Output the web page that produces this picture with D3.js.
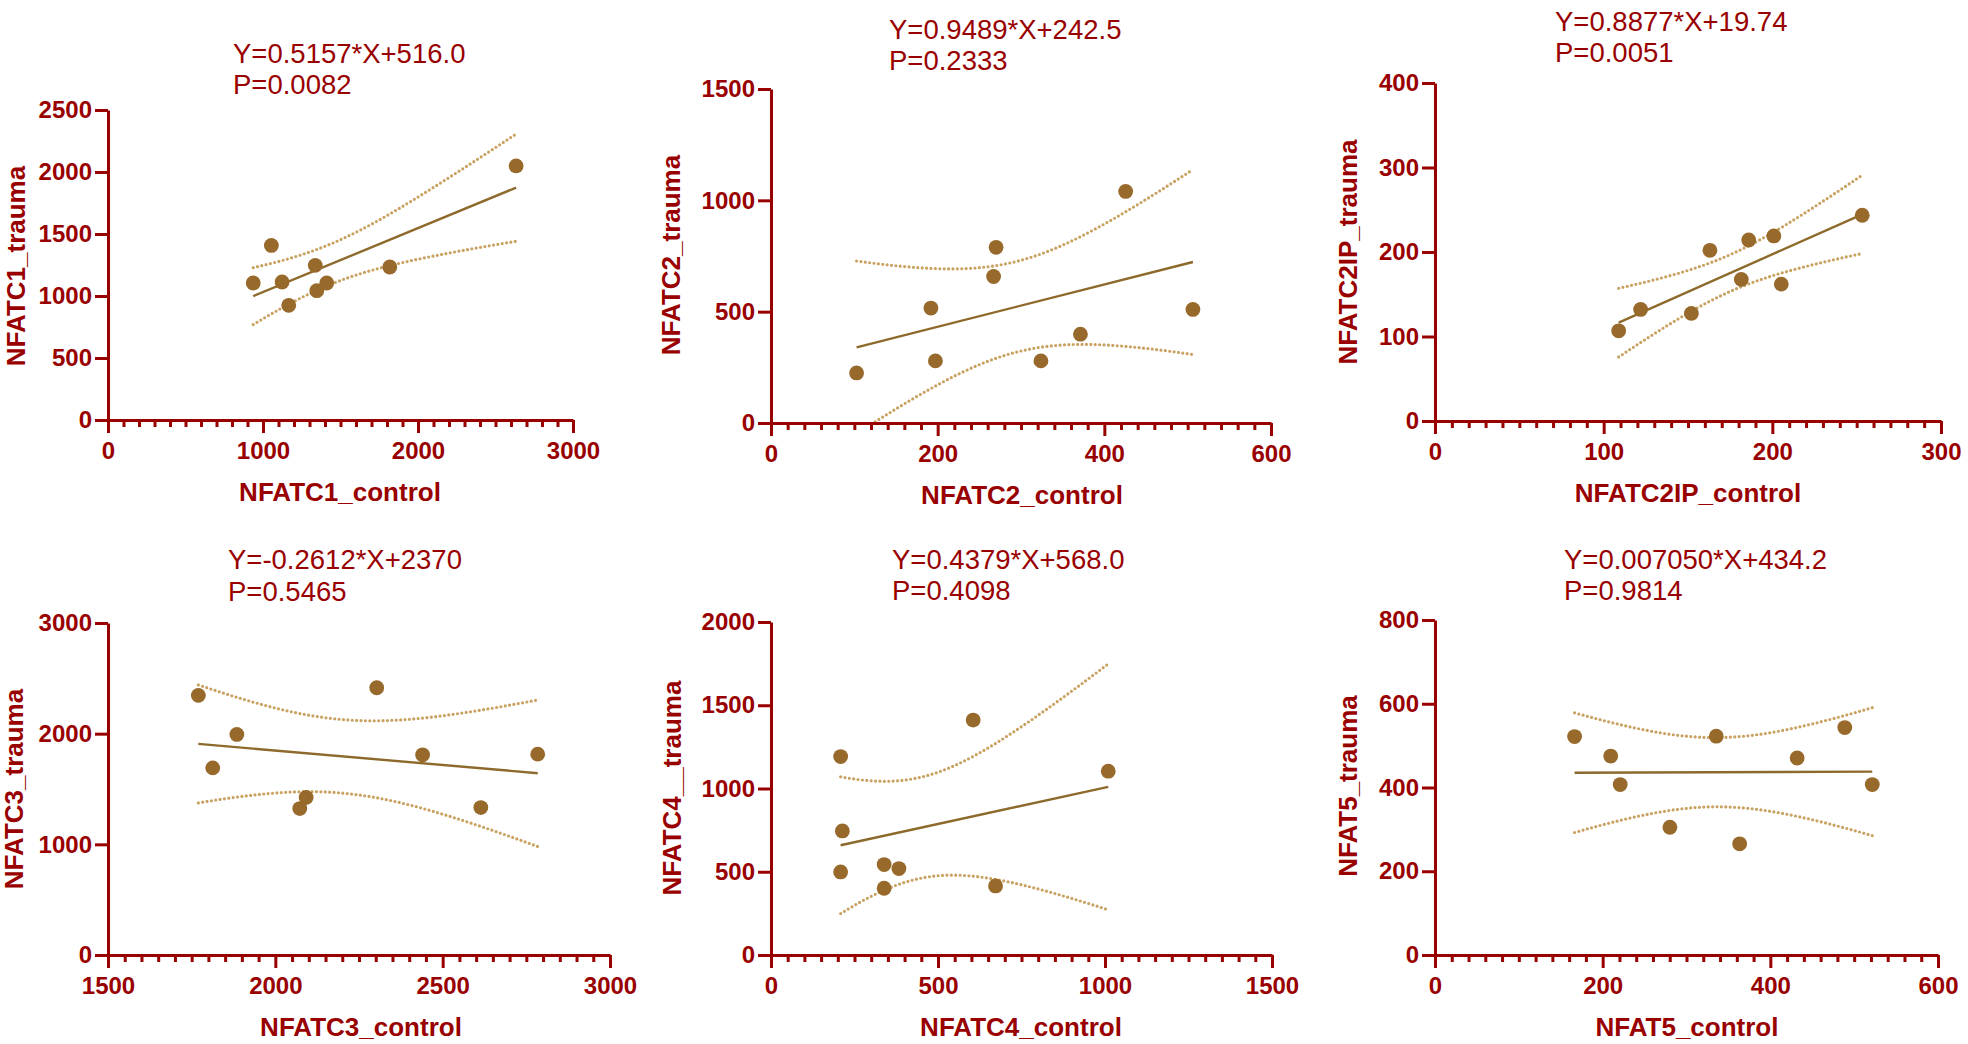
<!DOCTYPE html>
<html>
<head>
<meta charset="utf-8">
<script src="https://cdn.jsdelivr.net/npm/d3@7"></script>
<style>
  html, body { margin: 0; padding: 0; background: #ffffff; }
  svg { display: block; }
</style>
</head>
<body>
<svg id="chart" width="1968" height="1044"></svg>
<script>
// ---------------- DATA ----------------
const genes = ["NFATC1", "NFATC2", "NFATC2IP", "NFATC3", "NFATC4", "NFAT5"];
const xTitles = ["NFATC1_control", "NFATC2_control", "NFATC2IP_control", "NFATC3_control", "NFATC4_control", "NFAT5_control"];
const yTitles = ["NFATC1_trauma", "NFATC2_trauma", "NFATC2IP_trauma", "NFATC3_trauma", "NFATC4__trauma", "NFAT5_trauma"];
const equations = ["Y=0.5157*X+516.0", "Y=0.9489*X+242.5", "Y=0.8877*X+19.74", "Y=-0.2612*X+2370", "Y=0.4379*X+568.0", "Y=0.007050*X+434.2"];
const pTexts = ["P=0.0082", "P=0.2333", "P=0.0051", "P=0.5465", "P=0.4098", "P=0.9814"];
const slopes = [0.5157, 0.9489, 0.8877, -0.2612, 0.4379, 0.007050];
const intercepts = [516.0, 242.5, 19.74, 2370, 568.0, 434.2];

// axis ranges and ticks
const xDomains = [[0, 3000], [0, 600], [0, 300], [1500, 3000], [0, 1500], [0, 600]];
const yDomains = [[0, 2500], [0, 1500], [0, 400], [0, 3000], [0, 2000], [0, 800]];
const xMajorTicks = [[0, 1000, 2000, 3000], [0, 200, 400, 600], [0, 100, 200, 300], [1500, 2000, 2500, 3000], [0, 500, 1000, 1500], [0, 200, 400, 600]];
const xMinorStep = [100, 20, 10, 50, 50, 20];
const yTicks = [[0, 500, 1000, 1500, 2000, 2500], [0, 500, 1000, 1500], [0, 100, 200, 300, 400], [0, 1000, 2000, 3000], [0, 500, 1000, 1500, 2000], [0, 200, 400, 600, 800]];

// points (control, trauma)
const nfatc1X = [937, 1054, 1123, 1166, 1337, 1347, 1411, 1818, 2633];
const nfatc1Y = [1105, 1408, 1113, 925, 1247, 1043, 1105, 1234, 2049];
const nfatc2X = [102.7, 191.9, 197.3, 267.1, 270.1, 323.9, 371.3, 425.6, 506.3];
const nfatc2Y = [225, 516, 279, 658, 789, 279, 399, 1040, 510];
const nfatc2ipX = [108.9, 121.9, 152.0, 163.0, 181.6, 186.0, 200.9, 205.3, 253.3];
const nfatc2ipY = [106.7, 132, 127.3, 202, 167.6, 214.2, 219, 162, 243.5];
const nfatc3X = [1770, 1813, 1885, 2073, 2092, 2303, 2440, 2614, 2784];
const nfatc3Y = [2346, 1691, 1993, 1323, 1423, 2415, 1809, 1332, 1815];
const nfatc4X = [208.5, 213.6, 208.5, 338.7, 338.7, 382.9, 605.3, 672.3, 1009.7];
const nfatc4Y = [1192, 745, 499, 543, 401, 519, 1411, 415, 1104];
const nfat5X = [166.5, 209.6, 220.9, 280.2, 335.5, 363.4, 432.0, 488.8, 521.6];
const nfat5Y = [521.7, 475.1, 407.1, 305.1, 522.5, 265.6, 470.4, 543.1, 407.1];

const seriesX = [nfatc1X, nfatc2X, nfatc2ipX, nfatc3X, nfatc4X, nfat5X];
const seriesY = [nfatc1Y, nfatc2Y, nfatc2ipY, nfatc3Y, nfatc4Y, nfat5Y];

// ---------------- LAYOUT ----------------
const layout = [
  {x0: 108, x1: 573, y0: 110, y1: 420, eqX: 233, eqY: 63, pY: 94, ylX: 16, ylY: 266, xlX: 340},
  {x0: 771, x1: 1271, y0: 89, y1: 423, eqX: 889, eqY: 39, pY: 70, ylX: 671, ylY: 255, xlX: 1022},
  {x0: 1435, x1: 1941, y0: 83, y1: 421, eqX: 1555, eqY: 31, pY: 62, ylX: 1348, ylY: 252, xlX: 1688},
  {x0: 108, x1: 610, y0: 623, y1: 955, eqX: 228, eqY: 569, pY: 601, ylX: 14, ylY: 789, xlX: 361},
  {x0: 771, x1: 1272, y0: 622, y1: 955, eqX: 892, eqY: 569, pY: 600, ylX: 672, ylY: 788, xlX: 1021},
  {x0: 1435, x1: 1938, y0: 620, y1: 955, eqX: 1564, eqY: 569, pY: 600, ylX: 1348, ylY: 786, xlX: 1687}
];

const RED = "#990000";
const DOT = "#97692b";
const LINE = "#8d6a2c";
const BAND = "#c9a262";
const T975_DF7 = 2.3646;

const svg = d3.select("#chart");
const defs = svg.append("defs");

genes.forEach((g, i) => {
  const L = layout[i];
  const xs = seriesX[i], ys = seriesY[i];
  const x = d3.scaleLinear().domain(xDomains[i]).range([L.x0, L.x1]);
  const y = d3.scaleLinear().domain(yDomains[i]).range([L.y1, L.y0]);
  const gp = svg.append("g").attr("class", "panel-" + g);

  defs.append("clipPath").attr("id", "clip" + i)
    .append("rect").attr("x", L.x0).attr("y", L.y0 - 40)
    .attr("width", L.x1 - L.x0 + 20).attr("height", L.y1 - L.y0 + 40);

  // regression and 95% confidence band of the fitted line
  const a = slopes[i], b = intercepts[i];
  const n = xs.length;
  const xbar = d3.mean(xs);
  const sxx = d3.sum(xs, v => (v - xbar) * (v - xbar));
  const sse = d3.sum(xs.map((v, k) => Math.pow(ys[k] - (a * v + b), 2)));
  const s = Math.sqrt(sse / (n - 2));
  const xmin = d3.min(xs), xmax = d3.max(xs);
  const grid = d3.range(0, 121).map(k => xmin + (xmax - xmin) * k / 120);
  const half = v => T975_DF7 * s * Math.sqrt(1 / n + (v - xbar) * (v - xbar) / sxx);
  const upper = grid.map(v => [v, a * v + b + half(v)]);
  const lower = grid.map(v => [v, a * v + b - half(v)]);
  const lineGen = d3.line().x(d => x(d[0])).y(d => y(d[1]));

  const plot = gp.append("g").attr("clip-path", "url(#clip" + i + ")");
  [upper, lower].forEach(band => {
    plot.append("path").datum(band)
      .attr("d", lineGen)
      .attr("fill", "none")
      .attr("stroke", BAND)
      .attr("stroke-width", 3.2)
      .attr("stroke-linecap", "round")
      .attr("stroke-dasharray", "0 4.4");
  });
  plot.append("path").datum([[xmin, a * xmin + b], [xmax, a * xmax + b]])
    .attr("d", lineGen)
    .attr("fill", "none")
    .attr("stroke", LINE)
    .attr("stroke-width", 2.4);

  // axes
  const xMinor = d3.range(xDomains[i][0], xDomains[i][1] + 1e-9, xMinorStep[i])
    .filter(v => !xMajorTicks[i].includes(v));
  const gxMinor = gp.append("g").attr("transform", `translate(0,${L.y1})`)
    .call(d3.axisBottom(x).tickValues(xMinor).tickSize(7).tickFormat(""));
  const gx = gp.append("g").attr("transform", `translate(0,${L.y1})`)
    .call(d3.axisBottom(x).tickValues(xMajorTicks[i]).tickSize(13).tickPadding(9).tickSizeOuter(0).tickFormat(d3.format("d")));
  const gy = gp.append("g").attr("transform", `translate(${L.x0},0)`)
    .call(d3.axisLeft(y).tickValues(yTicks[i]).tickSize(13).tickPadding(3).tickSizeOuter(0).tickFormat(d3.format("d")));

  [gx, gy, gxMinor].forEach(ax => {
    ax.select(".domain").attr("stroke", RED).attr("stroke-width", 3);
    ax.selectAll(".tick line").attr("stroke", RED).attr("stroke-width", 3);
    ax.selectAll(".tick text")
      .attr("fill", RED)
      .attr("font-family", "Liberation Sans, Arial, sans-serif")
      .attr("font-weight", "bold")
      .attr("font-size", 24);
  });
  gxMinor.select(".domain").remove();

  // points
  gp.append("g").selectAll("circle").data(xs.map((v, k) => [v, ys[k]]))
    .join("circle")
    .attr("cx", d => x(d[0]))
    .attr("cy", d => y(d[1]))
    .attr("r", 7.4)
    .attr("fill", DOT);

  // texts
  const txt = gp.append("g").attr("fill", RED).attr("font-family", "Liberation Sans, Arial, sans-serif");
  txt.append("text").attr("x", L.eqX).attr("y", L.eqY).attr("font-size", 27.5).text(equations[i]);
  txt.append("text").attr("x", L.eqX).attr("y", L.pY).attr("font-size", 27.5).text(pTexts[i]);
  txt.append("text")
    .attr("transform", `translate(${L.ylX},${L.ylY}) rotate(-90)`)
    .attr("text-anchor", "middle").attr("dy", "0.36em")
    .attr("font-size", 26).attr("font-weight", "bold")
    .text(yTitles[i]);
  txt.append("text")
    .attr("x", L.xlX).attr("y", L.y1 + 81)
    .attr("text-anchor", "middle")
    .attr("font-size", 26).attr("font-weight", "bold")
    .text(xTitles[i]);
});
</script>
</body>
</html>
